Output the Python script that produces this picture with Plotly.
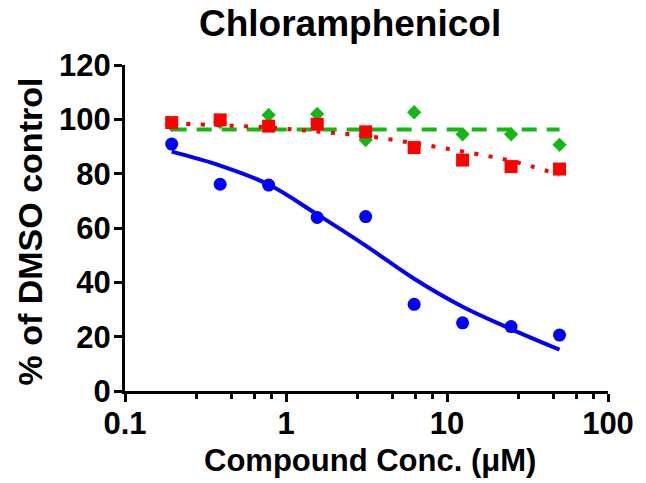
import plotly.graph_objects as go

# Concentrations (uM), two-fold dilution series
conc = [0.195, 0.39, 0.78, 1.5625, 3.125, 6.25, 12.5, 25, 50]

# Measured values (% of DMSO control)
blue_vals = [90.9, 76.1, 75.8, 63.9, 64.2, 31.9, 25.1, 23.7, 20.6]
red_vals = [98.8, 99.8, 97.5, 98.2, 95.4, 89.6, 85.0, 82.6, 81.7]
green_vals = [98.0, 99.0, 101.6, 102.0, 92.4, 102.6, 94.5, 94.5, 90.6]

# Fitted curves at the same concentrations
blue_fit = [88.1, 83.0, 76.0, 65.0, 53.5, 41.3, 31.0, 22.8, 15.2]
red_fit = [98.5, 97.8, 97.0, 95.5, 93.9, 91.2, 88.2, 84.7, 79.6]
green_fit = [96.3, 96.3, 96.3, 96.3, 96.3, 96.3, 96.3, 96.3, 96.3]

x_tickvals = [0.1, 1, 10, 100]
x_ticktext = ["0.1", "1", "10", "100"]
x_minor = [0.28, 0.46, 0.64, 0.81, 2.8, 4.6, 6.4, 8.1, 28, 46, 64, 81]
y_tickvals = [0, 20, 40, 60, 80, 100, 120]

BLUE = "#0000FF"
RED = "#FF0000"
GREEN = "#14B814"
FONT = "Liberation Sans, Arial, Helvetica, sans-serif"

fig = go.Figure()

# green
fig.add_trace(go.Scatter(x=conc, y=green_fit, mode="lines",
                         line=dict(color=GREEN, width=4, dash="15px,10px"),
                         hoverinfo="skip", showlegend=False))
fig.add_trace(go.Scatter(x=conc, y=green_vals, mode="markers",
                         marker=dict(symbol="diamond", size=11, color=GREEN),
                         showlegend=False))
# red
fig.add_trace(go.Scatter(x=conc, y=red_fit, mode="lines", line_shape="spline",
                         line=dict(color=RED, width=4, dash="4px,10.5px"),
                         hoverinfo="skip", showlegend=False))
fig.add_trace(go.Scatter(x=conc, y=red_vals, mode="markers",
                         marker=dict(symbol="square", size=13, color=RED),
                         showlegend=False))
# blue
fig.add_trace(go.Scatter(x=conc, y=blue_fit, mode="lines", line_shape="spline",
                         line=dict(color=BLUE, width=4),
                         hoverinfo="skip", showlegend=False))
fig.add_trace(go.Scatter(x=conc, y=blue_vals, mode="markers",
                         marker=dict(symbol="circle", size=13, color=BLUE),
                         showlegend=False))

axis_common = dict(showline=True, linewidth=3, linecolor="black", ticks="outside",
                   ticklen=8, tickwidth=3, tickcolor="black", showgrid=False,
                   zeroline=False, tickfont=dict(family=FONT, size=31, color="black", weight="bold"))

fig.update_xaxes(type="log", range=[-1, 2], tickmode="array", tickvals=x_tickvals,
                 ticktext=x_ticktext, ticklabelstandoff=-5,
                 minor=dict(tickmode="array", tickvals=x_minor, ticks="outside",
                            ticklen=5, tickwidth=3, tickcolor="black", showgrid=False),
                 **axis_common)
fig.update_yaxes(range=[0, 120], tickmode="array", tickvals=y_tickvals,
                 ticklabelstandoff=-3, **axis_common)

annos = [
    dict(text="Chloramphenicol", x=0.466, y=1.127, size=37),
    dict(text="Compound Conc. (\u03bcM)", x=0.507, y=-0.214, size=31),
    dict(text="% of DMSO control", x=-0.1976, y=0.488, size=34, angle=-90),
]
for a in annos:
    fig.add_annotation(text=a["text"], x=a["x"], y=a["y"], xref="paper", yref="paper",
                       xanchor="center", yanchor="middle", showarrow=False,
                       textangle=a.get("angle", 0),
                       font=dict(family=FONT, size=a["size"], color="black", weight="bold"))

fig.update_layout(width=646, height=483, margin=dict(l=125, r=30, t=65, b=92),
                  plot_bgcolor="white", paper_bgcolor="white", showlegend=False)

fig.write_html("out.html")
